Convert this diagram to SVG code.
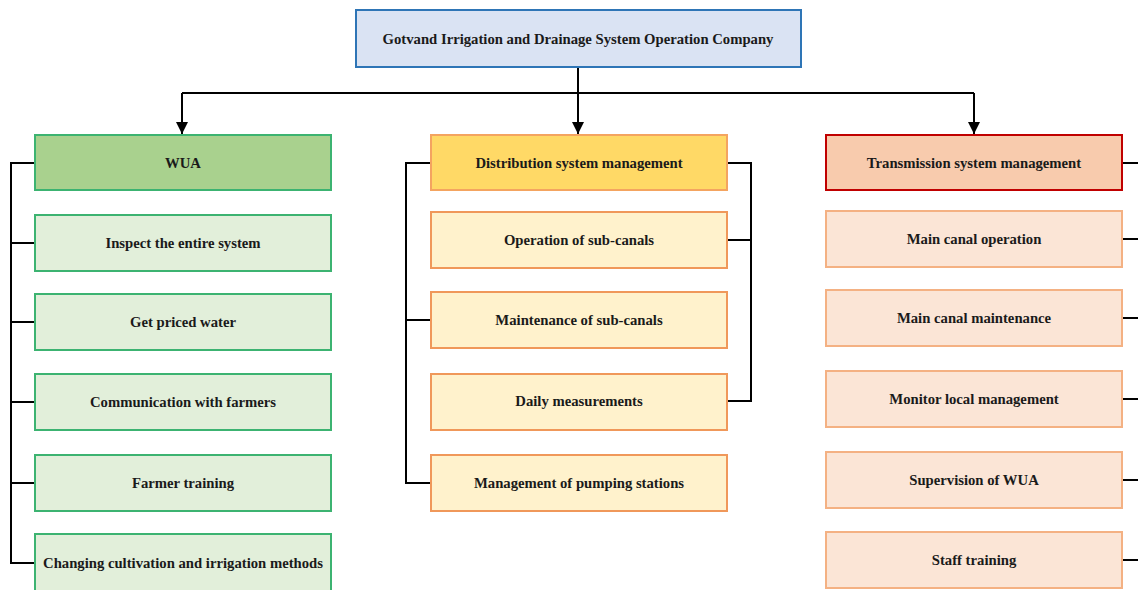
<svg xmlns="http://www.w3.org/2000/svg" width="1138" height="590" viewBox="0 0 1138 590">
<defs>
<marker id="arr" viewBox="0 0 12 12" refX="12" refY="6" markerWidth="12" markerHeight="13" markerUnits="userSpaceOnUse" orient="auto">
<path d="M0,0 L12,6 L0,12 z" fill="#000"/>
</marker>
<style>
text{font-family:"Liberation Serif","Times New Roman",serif;font-weight:bold;font-size:14.7px;fill:#1a1a1a;text-anchor:middle;dominant-baseline:central}
.top{fill:#dae3f3;stroke:#2e75b6;stroke-width:2}
.wh{fill:#a9d18e;stroke:#3cb371;stroke-width:2}
.wc{fill:#e2efda;stroke:#3cb371;stroke-width:2}
.dh{fill:#ffd966;stroke:#f4a460;stroke-width:2}
.dc{fill:#fff2cc;stroke:#f0985a;stroke-width:2}
.th{fill:#f8cbad;stroke:#c00000;stroke-width:2}
.tc{fill:#fbe5d6;stroke:#f4b183;stroke-width:2}
.ln{fill:none;stroke:#000;stroke-width:2}
</style>
</defs>
<rect width="1138" height="590" fill="#fff"/>
<g id="connectors">
<path class="ln" d="M578,67 V134" marker-end="url(#arr)"/>
<path class="ln" d="M182,93 H974"/>
<path class="ln" d="M182,93 V134" marker-end="url(#arr)"/>
<path class="ln" d="M974,93 V134" marker-end="url(#arr)"/>
<path class="ln" d="M35,163 H11 V563 H35 M11,243 H35 M11,322 H35 M11,402 H35 M11,483 H35"/>
<path class="ln" d="M431,163 H406 V483 H431 M406,320 H431"/>
<path class="ln" d="M727,163 H751 V401 H727 M727,240 H751"/>
<path class="ln" d="M1122,163 H1140 M1122,239 H1140 M1122,318 H1140 M1122,399 H1140 M1122,480 H1140 M1122,560 H1140"/>
</g>
<g id="n-top"><rect class="top" x="356" y="10" width="445" height="57"/><text x="578" y="39">Gotvand Irrigation and Drainage System Operation Company</text></g>
<g id="n-wua"><rect class="wh" x="35" y="135" width="296" height="55"/><text x="183" y="163">WUA</text></g>
<g id="n-w1"><rect class="wc" x="35" y="215" width="296" height="56"/><text x="183" y="243">Inspect the entire system</text></g>
<g id="n-w2"><rect class="wc" x="35" y="294" width="296" height="56"/><text x="183" y="322">Get priced water</text></g>
<g id="n-w3"><rect class="wc" x="35" y="374" width="296" height="56"/><text x="183" y="402">Communication with farmers</text></g>
<g id="n-w4"><rect class="wc" x="35" y="455" width="296" height="56"/><text x="183" y="483">Farmer training</text></g>
<g id="n-w5"><rect class="wc" x="35" y="534" width="296" height="60"/><text x="183" y="563">Changing cultivation and irrigation methods</text></g>
<g id="n-dist"><rect class="dh" x="431" y="135" width="296" height="55"/><text x="579" y="163">Distribution system management</text></g>
<g id="n-d1"><rect class="dc" x="431" y="212" width="296" height="56"/><text x="579" y="240">Operation of sub-canals</text></g>
<g id="n-d2"><rect class="dc" x="431" y="292" width="296" height="56"/><text x="579" y="320">Maintenance of sub-canals</text></g>
<g id="n-d3"><rect class="dc" x="431" y="374" width="296" height="56"/><text x="579" y="401">Daily measurements</text></g>
<g id="n-d4"><rect class="dc" x="431" y="455" width="296" height="56"/><text x="579" y="483">Management of pumping stations</text></g>
<g id="n-trans"><rect class="th" x="826" y="135" width="296" height="55"/><text x="974" y="163">Transmission system management</text></g>
<g id="n-t1"><rect class="tc" x="826" y="211" width="296" height="56"/><text x="974" y="239">Main canal operation</text></g>
<g id="n-t2"><rect class="tc" x="826" y="290" width="296" height="56"/><text x="974" y="318">Main canal maintenance</text></g>
<g id="n-t3"><rect class="tc" x="826" y="371" width="296" height="56"/><text x="974" y="399">Monitor local management</text></g>
<g id="n-t4"><rect class="tc" x="826" y="452" width="296" height="56"/><text x="974" y="480">Supervision of WUA</text></g>
<g id="n-t5"><rect class="tc" x="826" y="532" width="296" height="56"/><text x="974" y="560">Staff training</text></g>
</svg>
